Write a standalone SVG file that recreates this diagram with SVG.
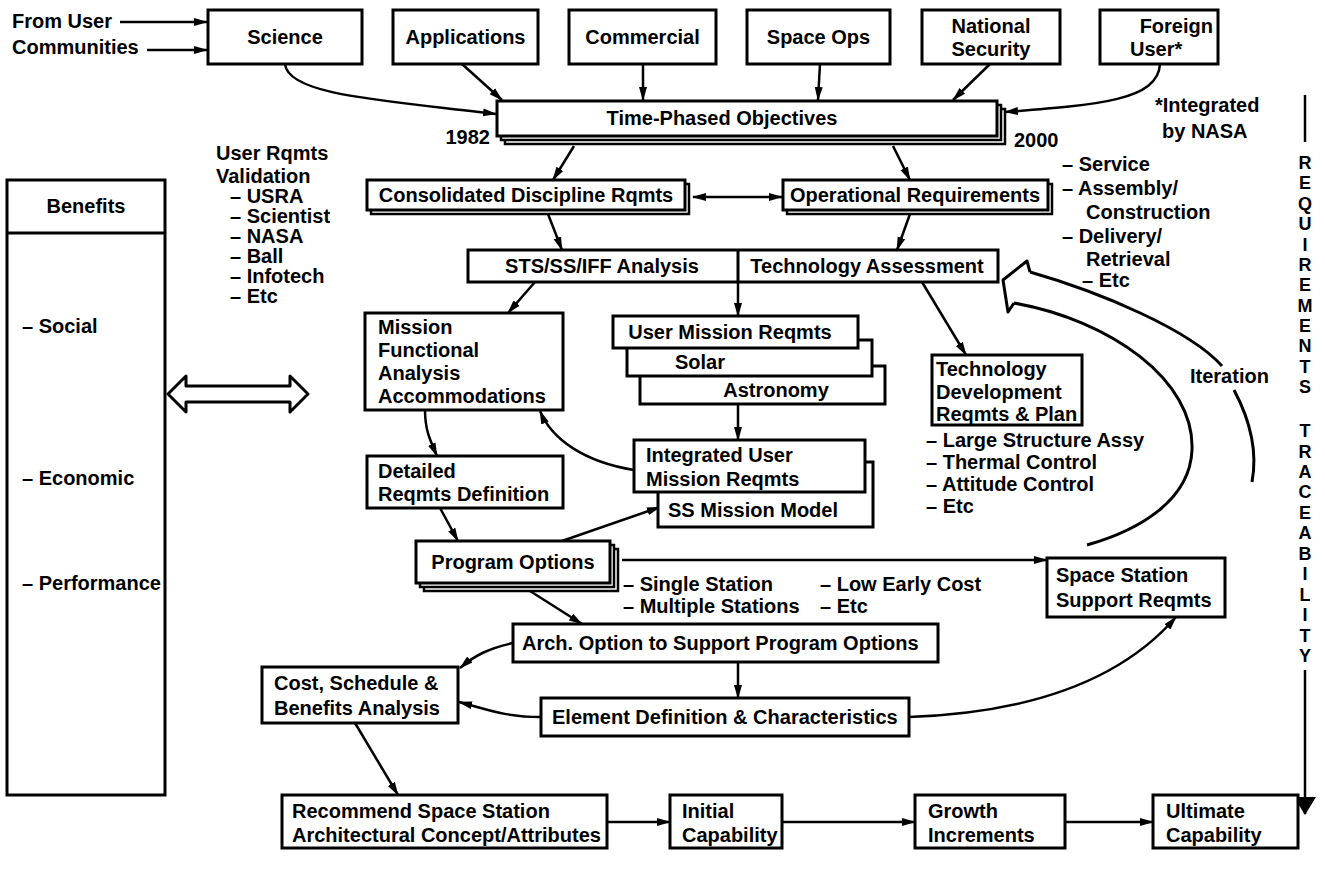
<svg xmlns="http://www.w3.org/2000/svg" width="1325" height="882" viewBox="0 0 1325 882">
<defs>
<marker id="ah" markerWidth="14" markerHeight="10" refX="13" refY="5" orient="auto" markerUnits="userSpaceOnUse"><path d="M0,1 L14,5 L0,9 z" fill="#000"/></marker>
<marker id="ahs" markerWidth="14" markerHeight="10" refX="13" refY="5" orient="auto-start-reverse" markerUnits="userSpaceOnUse"><path d="M0,1 L14,5 L0,9 z" fill="#000"/></marker>
<marker id="big" markerWidth="18" markerHeight="30" refX="17" refY="15" orient="auto" markerUnits="userSpaceOnUse"><path d="M0,4 L18,15 L0,26 z" fill="#000"/></marker>
</defs>
<style>
.box{fill:#fff;stroke:#000;stroke-width:3}
.sh{fill:#fff;stroke:#000;stroke-width:2.5}
.c{fill:none;stroke:#000;stroke-width:2.5}
.a{marker-end:url(#ah)}
text{font-family:"Liberation Sans",Arial,Helvetica,sans-serif;font-weight:bold;font-size:20px;fill:#000}
.m{text-anchor:middle}
.e{text-anchor:end}
.tr{font-size:18px;text-anchor:middle}
</style>
<rect width="1325" height="882" fill="#fff"/>

<g id="connectors">
<path class="c a" d="M120,22 L207,22"/>
<path class="c a" d="M147,50 L207,50"/>
<path class="c a" d="M285,64 C288,95 380,100 496,114"/>
<path class="c a" d="M462,64 L502,100"/>
<path class="c a" d="M643,64 L643,100"/>
<path class="c a" d="M820,64 L818,100"/>
<path class="c a" d="M990,64 L953,100"/>
<path class="c a" d="M1160,64 C1158,100 1100,105 1005,112"/>
<path class="c a" d="M574,146 L553,180"/>
<path class="c a" d="M893,146 L910,180"/>
<path class="c" style="marker-start:url(#ahs);marker-end:url(#ahs)" d="M693,197 L782,197"/>
<path class="c a" d="M548,214 L562,250"/>
<path class="c a" d="M910,214 L897,250"/>
<path class="c a" d="M535,282 L508,313"/>
<path class="c a" d="M738,282 L738,316"/>
<path class="c a" d="M922,282 L966,355"/>
<path class="c a" d="M738,404 L738,440"/>
<path class="c a" d="M634,470 C585,462 552,440 540,411"/>
<path class="c a" d="M425,410 C425,430 430,440 437,456"/>
<path class="c a" d="M440,508 L458,541"/>
<path class="c a" d="M562,541 L660,507"/>
<path class="c a" d="M622,560 L1047,560"/>
<path class="c a" d="M530,591 L582,624"/>
<path class="c a" d="M513,643 C490,648 475,655 460,668"/>
<path class="c a" d="M738,662 L738,698"/>
<path class="c a" d="M541,717 C505,717 490,710 459,702"/>
<path class="c a" d="M909,717 C1050,712 1130,670 1176,617"/>
<path class="c a" d="M355,723 L398,795"/>
<path class="c a" d="M607,822 L670,822"/>
<path class="c a" d="M782,822 L915,822"/>
<path class="c a" d="M1065,822 L1153,822"/>
<path class="c" d="M1305,95 L1305,142"/>
<path class="c" style="marker-end:url(#big)" d="M1305,670 L1305,814"/>
<g id="iteration-arrow">
<path class="c" style="stroke-width:3" d="M1030,272 C1100,292 1190,330 1222,366"/>
<path class="c" style="stroke-width:3" d="M1234,390 C1250,420 1258,450 1252,482"/>
<path class="c" style="stroke-width:3;stroke-linejoin:round" d="M1030,272 L1027,261 L1003,280 L1008,312 L1014,303"/>
<path class="c" style="stroke-width:3" d="M1014,303 C1110,320 1195,380 1192,450 C1190,500 1140,530 1087,545"/>
</g>
</g>

<g id="from-user"><text x="12" y="28">From User</text><text x="12" y="54">Communities</text></g>

<g id="science"><rect class="box" x="208" y="10" width="154" height="54"/><text class="m" x="285" y="44">Science</text></g>
<g id="applications"><rect class="box" x="393" y="10" width="145" height="54"/><text class="m" x="465.5" y="44">Applications</text></g>
<g id="commercial"><rect class="box" x="569" y="10" width="147" height="54"/><text class="m" x="642.5" y="44">Commercial</text></g>
<g id="space-ops"><rect class="box" x="747" y="10" width="143" height="54"/><text class="m" x="818.5" y="44">Space Ops</text></g>
<g id="national-security"><rect class="box" x="922" y="10" width="138" height="54"/><text class="m" x="991" y="33">National</text><text class="m" x="991" y="56">Security</text></g>
<g id="foreign-user"><rect class="box" x="1100" y="10" width="118" height="54"/><text class="e" x="1213" y="33">Foreign</text><text x="1130" y="56">User*</text></g>

<g id="time-phased">
<rect class="sh" x="505" y="109" width="500" height="35"/>
<rect class="sh" x="501" y="105" width="500" height="35"/>
<rect class="box" x="497" y="101" width="500" height="35"/>
<text class="m" x="722" y="125">Time-Phased Objectives</text>
<text class="e" x="490" y="144">1982</text>
<text x="1014" y="147">2000</text>
</g>
<g id="note"><text x="1155" y="112">*Integrated</text><text x="1162" y="138">by NASA</text></g>

<g id="traceability">
<text class="tr" x="1305" y="169">R</text><text class="tr" x="1305" y="189.4">E</text><text class="tr" x="1305" y="209.7">Q</text><text class="tr" x="1305" y="230.1">U</text><text class="tr" x="1305" y="250.5">I</text><text class="tr" x="1305" y="270.8">R</text><text class="tr" x="1305" y="291.2">E</text><text class="tr" x="1305" y="311.5">M</text><text class="tr" x="1305" y="331.9">E</text><text class="tr" x="1305" y="352.3">N</text><text class="tr" x="1305" y="372.6">T</text><text class="tr" x="1305" y="393">S</text>
<text class="tr" x="1305" y="437">T</text><text class="tr" x="1305" y="457.5">R</text><text class="tr" x="1305" y="477.9">A</text><text class="tr" x="1305" y="498.4">C</text><text class="tr" x="1305" y="518.8">E</text><text class="tr" x="1305" y="539.3">A</text><text class="tr" x="1305" y="559.7">B</text><text class="tr" x="1305" y="580.2">I</text><text class="tr" x="1305" y="600.6">L</text><text class="tr" x="1305" y="621.1">I</text><text class="tr" x="1305" y="641.5">T</text><text class="tr" x="1305" y="662">Y</text>
</g>

<g id="user-rqmts-validation">
<text x="216" y="160">User Rqmts</text><text x="216" y="183">Validation</text>
<text x="230" y="203">– USRA</text><text x="230" y="223">– Scientist</text><text x="230" y="243">– NASA</text><text x="230" y="263">– Ball</text><text x="230" y="283">– Infotech</text><text x="230" y="303">– Etc</text>
</g>

<g id="benefits">
<rect class="box" x="7" y="180" width="158" height="615"/>
<path class="c" style="stroke-width:3" d="M7,233 L165,233"/>
<text class="m" x="86" y="213">Benefits</text>
<text x="22" y="333">– Social</text><text x="22" y="485">– Economic</text><text x="22" y="590">– Performance</text>
</g>
<g id="benefits-link"><path d="M168,394 L186,376 L186,386 L290,386 L290,376 L308,394 L290,412 L290,402 L186,402 L186,412 Z" fill="#fff" stroke="#000" stroke-width="3" stroke-linejoin="round"/></g>

<g id="consolidated"><rect class="sh" x="371" y="184" width="318" height="30"/><rect class="box" x="367" y="180" width="318" height="30"/><text class="m" x="526" y="202">Consolidated Discipline Rqmts</text></g>
<g id="operational"><rect class="sh" x="787" y="184" width="265" height="30"/><rect class="box" x="783" y="180" width="265" height="30"/><text class="m" x="915" y="202">Operational Requirements</text></g>

<g id="ops-list">
<text x="1062" y="171">– Service</text><text x="1062" y="195">– Assembly/</text><text x="1086" y="219">Construction</text><text x="1062" y="243">– Delivery/</text><text x="1086" y="266">Retrieval</text><text x="1082" y="287">– Etc</text>
</g>

<g id="sts-tech"><rect class="box" x="468" y="250" width="530" height="32"/><path class="c" style="stroke-width:3" d="M738,250 L738,282"/><text class="m" x="602" y="273">STS/SS/IFF Analysis</text><text class="m" x="867" y="273">Technology Assessment</text></g>

<g id="mission-functional"><rect class="box" x="365" y="313" width="198" height="97"/><text x="378" y="334">Mission</text><text x="378" y="357">Functional</text><text x="378" y="380">Analysis</text><text x="378" y="403">Accommodations</text></g>

<g id="user-mission">
<rect class="box" x="640" y="366" width="245" height="38"/><text class="m" x="776" y="397">Astronomy</text>
<rect class="box" x="627" y="340" width="245" height="36"/><text class="m" x="700" y="369">Solar</text>
<rect class="box" x="613" y="316" width="245" height="32"/><text class="m" x="730" y="339">User Mission Reqmts</text>
</g>

<g id="integrated">
<rect class="box" x="658" y="462" width="215" height="65"/><text x="668" y="517">SS Mission Model</text>
<rect class="box" x="634" y="440" width="231" height="52"/><text x="646" y="462">Integrated User</text><text x="646" y="486">Mission Reqmts</text>
</g>

<g id="tech-dev"><rect class="box" x="932" y="355" width="150" height="70"/><text x="936" y="376">Technology</text><text x="936" y="399">Development</text><text x="936" y="421">Reqmts &amp; Plan</text></g>
<g id="tech-list"><text x="926" y="447">– Large Structure Assy</text><text x="926" y="469">– Thermal Control</text><text x="926" y="491">– Attitude Control</text><text x="926" y="513">– Etc</text></g>

<g id="iteration-label"><text x="1190" y="383">Iteration</text></g>

<g id="detailed"><rect class="box" x="367" y="456" width="196" height="52"/><text x="378" y="478">Detailed</text><text x="378" y="501">Reqmts Definition</text></g>

<g id="program-options">
<rect class="sh" x="424" y="549" width="194" height="42"/><rect class="sh" x="420" y="545" width="194" height="42"/><rect class="box" x="416" y="541" width="194" height="42"/>
<text class="m" x="513" y="569">Program Options</text>
</g>
<g id="program-list"><text x="623" y="591">– Single Station</text><text x="623" y="613">– Multiple Stations</text><text x="820" y="591">– Low Early Cost</text><text x="820" y="613">– Etc</text></g>

<g id="ss-support"><rect class="box" x="1047" y="558" width="178" height="59"/><text x="1056" y="582">Space Station</text><text x="1056" y="607">Support Reqmts</text></g>

<g id="arch"><rect class="box" x="513" y="624" width="425" height="38"/><text x="522" y="650">Arch. Option to Support Program Options</text></g>
<g id="cost"><rect class="box" x="262" y="667" width="196" height="56"/><text x="274" y="690">Cost, Schedule &amp;</text><text x="274" y="715">Benefits Analysis</text></g>
<g id="element"><rect class="box" x="541" y="698" width="368" height="38"/><text x="552" y="724">Element Definition &amp; Characteristics</text></g>

<g id="recommend"><rect class="box" x="282" y="795" width="325" height="53"/><text x="292" y="818">Recommend Space Station</text><text x="292" y="842">Architectural Concept/Attributes</text></g>
<g id="initial"><rect class="box" x="670" y="795" width="112" height="53"/><text x="682" y="818">Initial</text><text x="682" y="842">Capability</text></g>
<g id="growth"><rect class="box" x="915" y="795" width="150" height="53"/><text x="928" y="818">Growth</text><text x="928" y="842">Increments</text></g>
<g id="ultimate"><rect class="box" x="1153" y="795" width="145" height="53"/><text x="1166" y="818">Ultimate</text><text x="1166" y="842">Capability</text></g>
</svg>
